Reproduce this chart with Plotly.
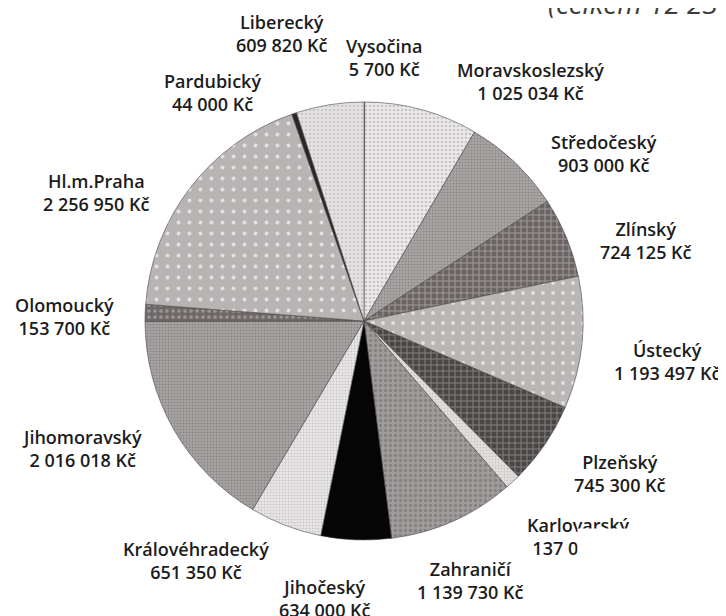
import plotly.graph_objects as go

# =========================
# DATA
# =========================
regions = [
    "Vysočina", "Moravskoslezský", "Středočeský", "Zlínský", "Ústecký",
    "Plzeňský", "Karlovarský", "Zahraničí", "Jihočeský", "Královéhradecký",
    "Jihomoravský", "Olomoucký", "Hl.m.Praha", "Pardubický", "Liberecký",
]
amounts = [
    5700, 1025034, 903000, 724125, 1193497,
    745300, 137000, 1139730, 634000, 651350,
    2016018, 153700, 2256950, 44000, 609820,
]
title_text = "(celkem 12 239 224 Kč)"

# =========================
# STYLE
# =========================
bg_colors = [
    "#5a5656", "#ebe9e9", "#aaa6a6", "#6a6464", "#bab6b5",
    "#4a4646", "#e4e1e1", "#a09c9c", "#050505", "#eae8e8",
    "#a8a4a4", "#6e6868", "#b9b4b4", "#2a2727", "#e4e2e2",
]
fg_colors = [
    "#5a5656", "#c9c5c5", "#8e8a8a", "#a29c9c", "#e2e0e0",
    "#858080", "#cac7c7", "#868282", "#050505", "#c8c5c5",
    "#8b8787", "#9a9494", "#e2e0e0", "#2a2727", "#cbc8c8",
]
shapes = [
    "", ".", ".", "+", ".",
    "+", ".", ".", "", ".",
    ".", ".", ".", "", ".",
]
sizes = [4, 4, 3, 6, 10, 6, 3, 5, 4, 3, 3, 6, 11, 4, 4]
solid = [0.3, 0.35, 0.35, 0.3, 0.12, 0.3, 0.35, 0.35, 0.3, 0.35, 0.35, 0.3, 0.1, 0.3, 0.35]

# label block centres in page pixels (x from left, y from top)
label_pos = [
    (384, 57), (530, 82), (604, 153), (646, 240), (667, 361),
    (620, 473), (578, 536), (470, 580), (325, 598), (196, 560),
    (82, 448), (64, 316), (96, 192), (212, 92), (282, 33),
]

W, H = 726, 616
OFF = 8  # page body margin
cx, cy, r = 364 - OFF, 321 - OFF, 219


def fmt(v):
    return f"{v:,}".replace(",", " ") + " Kč"


def px(x):
    return (x - OFF) / W


def py(y):
    return 1 - (y - OFF) / H


fig = go.Figure(go.Pie(
    labels=regions,
    values=amounts,
    sort=False,
    direction="clockwise",
    rotation=0,
    textinfo="none",
    hoverinfo="label+value",
    showlegend=False,
    domain=dict(x=[(cx - r) / W, (cx + r) / W],
                y=[(H - cy - r) / H, (H - cy + r) / H]),
    marker=dict(
        colors=bg_colors,
        line=dict(color="#4a4646", width=0.6),
        pattern=dict(shape=shapes, fgcolor=fg_colors, bgcolor=bg_colors,
                     size=sizes, solidity=solid, fillmode="replace"),
    ),
))

for name, val, (lx, ly) in zip(regions, amounts, label_pos):
    fig.add_annotation(
        x=px(lx), y=py(ly), xref="paper", yref="paper",
        text=f"{name}<br>{fmt(val)}", showarrow=False,
        xanchor="center", yanchor="middle", align="center",
        font=dict(family="Open Sans", size=18, color="#1c1c1c", weight=600),
    )

# white scan patch over part of the Karlovarský label
fig.add_annotation(
    x=px(577), y=py(528), xref="paper", yref="paper",
    text=" ", showarrow=False, xanchor="left", yanchor="top",
    width=130, height=44, bgcolor="white", borderpad=0,
)

fig.add_annotation(
    x=px(546), y=py(3), xref="paper", yref="paper",
    text=f"<i>{title_text}</i>", showarrow=False,
    xanchor="left", yanchor="middle",
    font=dict(family="Open Sans", size=28, color="#3c3c3c", weight=400),
)

fig.update_layout(
    width=W, height=H, autosize=False,
    margin=dict(l=0, r=0, t=0, b=0),
    paper_bgcolor="white", plot_bgcolor="white",
)
fig.write_html("out.html")
